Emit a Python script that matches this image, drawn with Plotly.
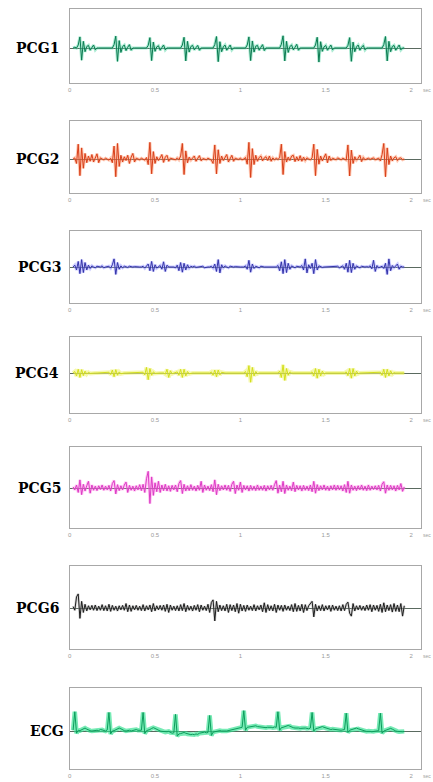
import plotly.graph_objects as go

# ---- data (sampled every 0.01 s starting at t = 0.02 s; values in % of panel half-height) ----
labels = ["PCG1", "PCG2", "PCG3", "PCG4", "PCG5", "PCG6", "ECG"]
tick_vals = [0, 0.5, 1, 1.5, 2]
tick_text = ["0", "0.5", "1", "1.5", "2"]
t_start = 0.02
t_step = 0.01

pcg1 = [
    0, 2, 0, 8, 30, -33, 18, -10, 4, 7,
    -6, 2, 8, -5, 0, 0, 0, 1, 0, 0,
    0, 0, -1, 0, 9, 32, -36, 20, -12, 4,
    8, -7, 2, 9, -6, 0, 0, 0, 1, 0,
    0, 0, 0, 0, 7, 28, -34, 16, -9, 3,
    6, -6, 1, 8, -5, 0, 0, 0, 0, 0,
    0, -1, 0, 0, 8, 29, -35, 18, -11, 4,
    7, -5, 1, 7, -6, 0, 0, 0, 1, 0,
    0, 0, 0, 9, 31, -37, 17, -10, 3, 8,
    -6, 1, 8, -5, 0, 0, 0, 0, 0, 0,
    0, 0, 8, 30, -34, 19, -11, 5, 7, -6,
    2, 9, -7, 0, 0, 0, 1, 0, 0, 0,
    0, 0, 10, 33, -35, 18, -12, 4, 8, -5,
    2, 10, -6, 0, 0, 0, 0, 0, 0, 0,
    0, 0, 8, 29, -38, 17, -9, 3, 7, -6,
    1, 8, -5, 0, 0, 0, 0, 1, 0, 0,
    0, 7, 28, -36, 16, -10, 3, 8, -6, 2,
    7, -5, 0, 0, 0, 0, 0, 0, 0, 0,
    0, 0, 9, 31, -35, 18, -10, 4, 7, -6,
    1, 8, -5, 0, 0,
]

pcg2 = [
    0, 3, -12, 40, -45, 30, -25, 15, -10, 8,
    -6, 12, -8, 4, 14, -10, 3, 0, -2, 2,
    0, -3, 2, -10, 35, -48, 42, -20, 10, -8,
    6, -4, 10, -12, 5, 15, -8, 2, 0, -2,
    2, 0, -3, 4, -15, 45, -40, 20, -12, 6,
    -4, 3, 12, -9, 5, 10, -6, 2, 0, 0,
    -2, 3, -2, 8, 42, -42, 22, -10, 5, -3,
    3, 8, -6, 2, 9, -5, 1, 0, -2, 2,
    0, -3, -12, 38, -40, 25, -12, 8, -4, 6,
    12, -8, 3, 10, -6, 2, 0, -1, 2, -2,
    0, 4, -14, 45, -50, 28, -15, 10, -6, 4,
    8, -5, 3, 6, -4, 8, -6, 3, -2, 2,
    -1, 3, 40, -42, 20, -8, 5, -4, 8, 10,
    -7, 6, -5, 9, -6, 5, -4, 3, 0, -2,
    3, 40, -45, 26, -14, 8, -5, 3, 14, -10,
    8, -4, 2, 0, -2, 3, 0, -2, 2, 0,
    -3, 38, -46, 24, -12, 6, -3, 2, 10, -7,
    4, -2, 0, 2, -1, 0, 3, -2, 0, 2,
    -5, 12, 42, -48, 30, -15, 8, -5, 3, 6,
    -4, 2, 3, -2, 0,
]

pcg3 = [
    0, 5, -8, 15, -18, 20, -15, 12, -8, 5,
    -4, 3, 0, -2, 2, 0, 0, 3, -2, 0,
    0, 2, -3, 6, 22, -20, 12, -6, 3, -2,
    2, 0, -1, 2, 0, 0, 1, 0, 0, 0,
    0, 2, -3, 4, 8, -10, 15, -12, 6, -3,
    0, 4, -6, 14, -12, 5, 0, 0, 2, 0,
    -2, 5, -10, 12, -14, 10, -8, 6, -3, 2,
    0, 2, -1, 0, 0, 0, 2, -2, 0, 0,
    0, 2, -3, 8, -12, 20, -16, 6, -2, 3,
    0, -2, 2, 0, 0, 1, 0, 0, 0, 0,
    0, 3, -6, 18, -14, 8, -4, 2, 0, -2,
    2, 0, 0, 0, 0, 1, 0, 0, 0, 0,
    4, -10, 14, -18, 20, -15, 10, -6, 3, 0,
    -2, 2, 0, 0, 4, -8, 22, -16, 6, -4,
    10, -18, 20, -8, 3, 0, -1, 0, 0, 0,
    0, 1, 0, 0, 0, 2, -2, 0, 3, -6,
    10, -14, 18, -15, 10, -6, 3, 0, -2, 2,
    0, 0, 1, 0, 3, -5, 18, -12, 4, -2,
    0, 2, -4, 10, -20, 22, -10, 4, -2, 3,
    8, -6, 2, 0, 0,
]

pcg4 = [
    0, 4, -8, 10, -12, 9, -7, 5, -3, 2,
    -1, 0, 0, 0, 0, 0, 0, 0, 0, 0,
    0, 2, -4, 8, -10, 9, -6, 3, -2, 0,
    0, 0, 0, 0, 0, 0, 0, 0, 0, 0,
    0, 2, -5, 15, -18, 12, -6, 3, -1, 0,
    0, 0, 0, 0, -3, 10, -12, 6, -2, 0,
    0, 3, -6, 10, -12, 10, -8, 4, -2, 0,
    0, 0, 0, 0, 0, 0, 0, 0, 0, 0,
    0, 3, -6, 8, -10, 8, -5, 2, 0, 0,
    0, 0, 0, 0, 0, 0, 0, 0, 0, 0,
    0, 4, -10, 20, -25, 15, -8, 4, -2, 0,
    0, 0, 0, 0, 0, 0, 0, 0, 0, 0,
    0, 5, -12, 22, -20, 12, -6, 3, 0, 0,
    0, 0, 0, 0, 0, 0, 0, 0, 0, 0,
    3, -8, 12, -14, 10, -8, 5, -3, 0, 0,
    0, 0, 0, 0, 0, 0, 0, 0, 0, 0,
    3, -7, 12, -14, 12, -8, 5, -2, 0, 0,
    0, 0, 0, 0, 0, 0, 0, 0, 0, 0,
    2, -6, 10, -12, 10, -8, 6, -3, 1, 0,
    0, 0, 0, 0, 0,
]

pcg5 = [
    3, -5, 8, -12, 22, -18, 10, -8, 6, 18,
    -14, 8, -6, 5, -7, 6, -4, 8, -6, 5,
    -5, 7, -8, 12, 20, -16, 9, -7, 6, -5,
    8, 16, -12, 7, -6, 5, -8, 6, -5, 9,
    -7, 10, -12, 25, 45, -42, 30, -20, 14, -10,
    18, -12, 8, -7, 10, -8, 6, -9, 7, -5,
    8, -10, 12, 20, -15, 10, -8, 6, -7, 9,
    -6, 5, -8, 7, -6, 18, -12, 8, -6, 5,
    -7, 9, -10, 22, -18, 10, -7, 6, -5, 8,
    -6, 7, -9, 10, 18, -15, 8, -6, 16, -12,
    7, -5, 6, -8, 7, -6, 5, -7, 8, -6,
    5, -6, 7, -8, 6, -5, 7, -6, 9, 20,
    -14, 8, -10, 18, -15, 8, -6, 5, -7, 16,
    -10, 7, -5, 6, -8, 7, -6, 5, -7, 8,
    -10, 18, -14, 9, -7, 6, -5, 8, -6, 5,
    -7, 6, -5, 8, -6, 7, -5, 6, -8, 9,
    -12, 18, -14, 8, -6, 5, -7, 6, -5, 8,
    -6, 5, -7, 8, -6, 5, -4, 6, -5, 7,
    -8, 10, 17, -14, 8, -6, 7, -5, 6, -8,
    7, -5, 12, -9, 3,
]

pcg6 = [
    4, -6, 30, 38, -28, 18, -12, 10, -8, 6,
    -5, 7, -6, 8, -7, 5, -6, 9, -7, 6,
    -8, 10, -9, 7, -6, 5, -8, 6, -5, 7,
    -6, 12, -10, 8, -9, 6, -5, 7, -6, 5,
    -7, 9, -8, 6, -5, 8, -10, 12, -8, 6,
    -5, 7, -6, 8, -9, 10, -12, 8, -6, 5,
    -7, 6, -8, 9, -7, 12, -10, 7, -6, 5,
    -8, 7, -6, 9, -10, 8, -6, 5, -7, 10,
    -12, 15, 22, -35, 18, -10, 8, -7, 6, -8,
    10, -12, 9, -7, 8, -10, 12, -14, 10, -8,
    7, -9, 8, -6, 5, -7, 9, -8, 6, -5,
    8, -10, 14, -12, 9, -7, 6, -8, 10, -12,
    8, -6, 7, -9, 8, -6, 5, -7, 9, -10,
    12, -9, 7, -8, 10, -12, 9, -7, 6, 12,
    18, -24, 10, -8, 6, -7, 9, -8, 6, -5,
    7, -9, 8, -6, 5, -7, 6, -8, 9, -7,
    10, 16, -14, -22, 12, -8, 6, -5, 7, -6,
    5, -7, 8, -6, 9, -10, 8, -6, 7, -9,
    10, -12, 14, -10, 8, -7, 9, -11, 12, -9,
    8, -10, 12, -22, 6,
]

ecg = [
    2, 52, -6, 2, 1, 4, 7, 8, 5, 2,
    1, 0, 1, 0, 2, 1, 4, 3, 1, 0,
    3, 50, -8, 0, 1, 3, 6, 8, 6, 3,
    1, 0, 1, 2, 0, 1, 3, 4, 2, 1,
    2, 50, -7, 1, 2, 4, 7, 9, 7, 4,
    2, 0, -1, -2, -3, -2, -1, -4, -6, -5,
    45, -14, -8, -7, -5, -4, -6, -8, -9, -10,
    -9, -10, -8, -9, -6, -5, -4, -3, -5, -4,
    42, -12, -3, -2, 0, 2, 1, 0, -1, 0,
    0, 1, 2, 3, 4, 5, 6, 7, 8, 10,
    55, 2, 10, 11, 12, 13, 15, 14, 12, 11,
    10, 11, 10, 9, 10, 11, 10, 9, 11, 10,
    52, 2, 9, 10, 12, 14, 15, 13, 10, 9,
    8, 9, 8, 7, 8, 9, 8, 7, 6, 8,
    50, 0, 6, 7, 9, 11, 12, 10, 8, 6,
    5, 4, 5, 4, 3, 4, 3, 2, 3, 4,
    48, -4, 2, 3, 5, 7, 8, 6, 4, 2,
    1, 0, -1, 0, -1, -2, -1, 0, -1, 1,
    48, -6, 0, 2, 4, 6, 7, 5, 2, 0,
    -1, -2, -1, -2, -1,
]

series = [pcg1, pcg2, pcg3, pcg4, pcg5, pcg6, ecg]

# ---- styling / layout ----
W, H = 433, 782
glow_colors = ["#5ad8a8", "#ff946a", "#9a9aff", "#f0f47a", "#ff8ae8", "#a8a8a8", "#2ee08e"]
core_colors = ["#0b7a50", "#d8401a", "#3434a8", "#d2de1c", "#dc3cc4", "#1e1e1e", "#0c9c5c"]
glow_widths = [3, 3, 3, 4, 3, 2.5, 4.5]
glow_opac = [0.5, 0.5, 0.5, 0.6, 0.5, 0.5, 0.65]
# panel pixel geometry: (top, zero-line, bottom)
panels = [(9, 48, 83), (121, 159, 193), (231, 267, 303), (337, 373, 413),
          (447, 488, 528), (566, 608, 649), (688, 731, 769)]
label_right = [59, 59, 61, 59, 61, 59, 64]
x_left, x_right = 68, 421
px_per_sec = 171.5
unit_per_px = 100 / 37.0

fig = go.Figure()
layout = dict(width=W, height=H, margin=dict(l=0, r=0, t=0, b=0),
              paper_bgcolor="white", plot_bgcolor="white", showlegend=False)
annotations = []

x_max = (x_right - x_left) / px_per_sec

for i, (lab, ys) in enumerate(zip(labels, series)):
    n = i + 1
    xa = "x" if n == 1 else f"x{n}"
    ya = "y" if n == 1 else f"y{n}"
    fig.add_trace(go.Scatter(y=ys, x0=t_start, dx=t_step, mode="lines",
                             line=dict(color=glow_colors[i], width=glow_widths[i]),
                             opacity=glow_opac[i], xaxis=xa, yaxis=ya, hoverinfo="skip"))
    fig.add_trace(go.Scatter(y=ys, x0=t_start, dx=t_step, mode="lines",
                             line=dict(color=core_colors[i], width=1),
                             xaxis=xa, yaxis=ya, hoverinfo="skip"))
    top, zero, bot = panels[i]
    dom_y = [1 - bot / H, 1 - top / H]
    rng_y = [-(bot - zero) * unit_per_px, (zero - top) * unit_per_px]
    xkey = "xaxis" if n == 1 else f"xaxis{n}"
    ykey = "yaxis" if n == 1 else f"yaxis{n}"
    layout[xkey] = dict(domain=[x_left / W, x_right / W], range=[0, x_max],
                        anchor=ya, showline=True, mirror=True, linecolor="#a8a8a8",
                        linewidth=1, showgrid=False, zeroline=False,
                        tickvals=tick_vals, ticktext=tick_text, ticks="",
                        tickfont=dict(size=6, color="#9a9a9a", family="Liberation Sans"),
                        ticklabelstandoff=1)
    layout[ykey] = dict(domain=dom_y, range=rng_y, anchor=xa, showline=True,
                        mirror=True, linecolor="#a8a8a8", linewidth=1, showgrid=False,
                        zeroline=True, zerolinecolor="#5a6a60", zerolinewidth=1,
                        showticklabels=False, ticks="")
    annotations.append(dict(text=f"<b>{lab}</b>", xref="paper", yref="paper",
                            x=label_right[i] / W, y=1 - zero / H, xanchor="right",
                            yanchor="middle", showarrow=False,
                            font=dict(family="DejaVu Serif", size=14, color="black")))
    annotations.append(dict(text="sec", xref="paper", yref="paper",
                            x=427 / W, y=1 - (bot + 7) / H, xanchor="center",
                            yanchor="middle", showarrow=False,
                            font=dict(family="Liberation Sans", size=5, color="#a0a0a0")))

layout["annotations"] = annotations
fig.update_layout(**layout)
fig.write_html("out.html")
